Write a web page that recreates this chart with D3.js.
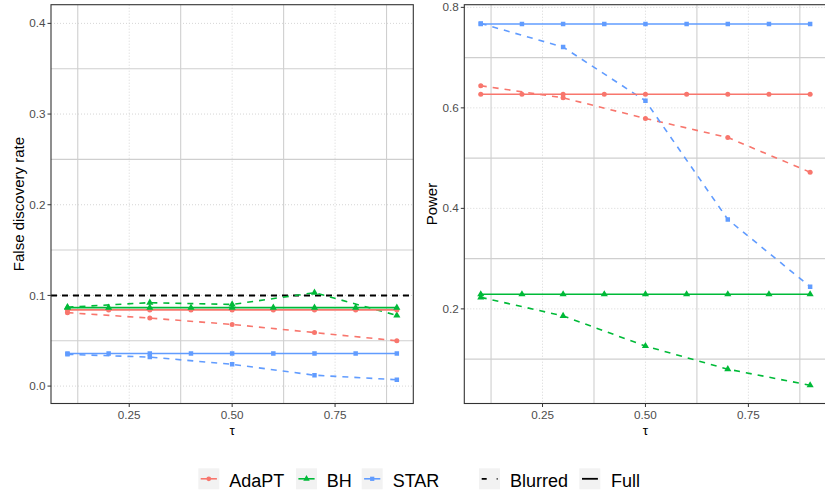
<!DOCTYPE html>
<html><head><meta charset="utf-8">
<script src="https://cdn.jsdelivr.net/npm/d3@7"></script>
<style>
body{margin:0;background:#fff;}
text{font-family:"Liberation Sans",Arial,sans-serif;}
</style></head>
<body><svg id="c" width="825" height="493"></svg>
<script>
// ---- data ----
const methods = ["AdaPT", "BH", "STAR"];
const versions = ["Blurred", "Full"];
const tauFull = [0.1, 0.2, 0.3, 0.4, 0.5, 0.6, 0.7, 0.8, 0.9];
const tauBlurred = [0.1, 0.3, 0.5, 0.7, 0.9];

const fdrFullAdaPT = [0.084, 0.084, 0.084, 0.084, 0.084, 0.084, 0.084, 0.084, 0.084];
const fdrFullBH    = [0.0865, 0.0865, 0.0865, 0.0865, 0.0865, 0.0865, 0.0865, 0.0865, 0.0865];
const fdrFullSTAR  = [0.036, 0.036, 0.036, 0.036, 0.036, 0.036, 0.036, 0.036, 0.036];
const fdrBlurAdaPT = [0.081, 0.075, 0.068, 0.059, 0.050];
const fdrBlurBH    = [0.087, 0.092, 0.090, 0.103, 0.078];
const fdrBlurSTAR  = [0.035, 0.032, 0.024, 0.012, 0.007];
const fdrTarget = 0.1;

const powFullAdaPT = [0.627, 0.627, 0.627, 0.627, 0.627, 0.627, 0.627, 0.627, 0.627];
const powFullBH    = [0.229, 0.229, 0.229, 0.229, 0.229, 0.229, 0.229, 0.229, 0.229];
const powFullSTAR  = [0.767, 0.767, 0.767, 0.767, 0.767, 0.767, 0.767, 0.767, 0.767];
const powBlurAdaPT = [0.644, 0.620, 0.579, 0.541, 0.472];
const powBlurBH    = [0.223, 0.186, 0.126, 0.080, 0.048];
const powBlurSTAR  = [0.768, 0.721, 0.614, 0.378, 0.244];

const xTicks = [0.25, 0.50, 0.75];
const xMinor = [0.125, 0.375, 0.625, 0.875];
const fdrTicks = [0.0, 0.1, 0.2, 0.3, 0.4];
const fdrMinor = [0.05, 0.15, 0.25, 0.35];
const powTicks = [0.2, 0.4, 0.6, 0.8];
const powMinor = [0.1, 0.3, 0.5, 0.7];

const colors = ["#F8766D", "#00BA38", "#619CFF"];
const shapes = [d3.symbolCircle, d3.symbolTriangle, d3.symbolSquare];

// ---- drawing ----
const svg = d3.select("#c");
const pTop = 4.7, pBottom = 403.5;

function panel(cfg) {
  const x = d3.scaleLinear().domain([0.06, 0.94]).range([cfg.left, cfg.right]);
  const y = d3.scaleLinear().domain(cfg.ydom).range([pBottom, pTop]);
  const g = svg.append("g");
  const clipId = "clip" + cfg.id;
  svg.append("clipPath").attr("id", clipId).append("rect")
    .attr("x", cfg.left).attr("y", pTop).attr("width", cfg.right - cfg.left).attr("height", pBottom - pTop);
  const pg = g.append("g").attr("clip-path", `url(#${clipId})`);
  pg.selectAll(".mx").data(xMinor).join("line")
    .attr("x1", d => x(d)).attr("x2", d => x(d)).attr("y1", pTop).attr("y2", pBottom)
    .attr("stroke", "#cfcfcf").attr("stroke-width", 1.1);
  pg.selectAll(".my").data(cfg.minor).join("line")
    .attr("y1", d => y(d)).attr("y2", d => y(d)).attr("x1", cfg.left).attr("x2", cfg.right)
    .attr("stroke", "#cfcfcf").attr("stroke-width", 1.1);
  pg.selectAll(".Mx").data(xTicks).join("line")
    .attr("x1", d => x(d)).attr("x2", d => x(d)).attr("y1", pTop).attr("y2", pBottom)
    .attr("stroke", "#d6d6d6").attr("stroke-width", 1).attr("stroke-dasharray", "1,2");
  pg.selectAll(".My").data(cfg.ticks).join("line")
    .attr("y1", d => y(d)).attr("y2", d => y(d)).attr("x1", cfg.left).attr("x2", cfg.right)
    .attr("stroke", "#d6d6d6").attr("stroke-width", 1).attr("stroke-dasharray", "1,2");

  if (cfg.hline !== undefined) {
    pg.append("line").attr("x1", cfg.left).attr("x2", cfg.right)
      .attr("y1", y(cfg.hline)).attr("y2", y(cfg.hline))
      .attr("stroke", "#000").attr("stroke-width", 2).attr("stroke-dasharray", "6,5");
  }
  const line = d3.line().x(d => x(d[0])).y(d => y(d[1]));
  cfg.series.forEach(s => {
    const pts = s.xs.map((v, i) => [v, s.ys[i]]);
    pg.append("path").attr("d", line(pts)).attr("fill", "none")
      .attr("stroke", colors[s.m]).attr("stroke-width", 1.6)
      .attr("stroke-dasharray", s.dash ? "6,6" : null);
    pg.selectAll(null).data(pts).join("path")
      .attr("d", d3.symbol().type(shapes[s.m]).size(s.m === 1 ? 22 : 20))
      .attr("transform", d => `translate(${x(d[0])},${y(d[1])})`)
      .attr("fill", colors[s.m]);
  });
  g.append("rect").attr("x", cfg.left).attr("y", pTop).attr("width", cfg.right - cfg.left)
    .attr("height", pBottom - pTop).attr("fill", "none").attr("stroke", "#333").attr("stroke-width", 1.1);
  g.selectAll(".yt").data(cfg.ticks).join("line")
    .attr("x1", cfg.left - 3.5).attr("x2", cfg.left).attr("y1", d => y(d)).attr("y2", d => y(d))
    .attr("stroke", "#333");
  g.selectAll(".yl").data(cfg.ticks).join("text")
    .attr("x", cfg.left - 5.5).attr("y", d => y(d)).attr("dy", "0.35em")
    .attr("text-anchor", "end").attr("font-size", 11.7).attr("fill", "#4d4d4d")
    .text(d => d3.format(".1f")(d));
  g.selectAll(".xt").data(xTicks).join("line")
    .attr("x1", d => x(d)).attr("x2", d => x(d)).attr("y1", pBottom).attr("y2", pBottom + 3.5)
    .attr("stroke", "#333");
  g.selectAll(".xl").data(xTicks).join("text")
    .attr("x", d => x(d)).attr("y", 419)
    .attr("text-anchor", "middle").attr("font-size", 11.7).attr("fill", "#4d4d4d")
    .text(d => d3.format(".2f")(d));
  g.append("text").attr("x", (cfg.left + cfg.right) / 2).attr("y", 434.5)
    .attr("text-anchor", "middle").attr("font-size", 13.5).attr("fill", "#000").text("τ");
  g.append("text").attr("transform", `translate(${cfg.titleX},${(pTop + pBottom) / 2}) rotate(-90)`)
    .attr("text-anchor", "middle").attr("font-size", 15).attr("fill", "#000").text(cfg.title);
}

panel({
  id: "L", left: 51, right: 413.3, ydom: [-0.0192, 0.4206], ticks: fdrTicks, minor: fdrMinor,
  title: "False discovery rate", titleX: 24, hline: fdrTarget,
  series: [
    {m: 0, xs: tauBlurred, ys: fdrBlurAdaPT, dash: true},
    {m: 1, xs: tauBlurred, ys: fdrBlurBH, dash: true},
    {m: 2, xs: tauBlurred, ys: fdrBlurSTAR, dash: true},
    {m: 0, xs: tauFull, ys: fdrFullAdaPT, dash: false},
    {m: 1, xs: tauFull, ys: fdrFullBH, dash: false},
    {m: 2, xs: tauFull, ys: fdrFullSTAR, dash: false}
  ]
});
panel({
  id: "R", left: 464.3, right: 826.6, ydom: [0.0117, 0.8053], ticks: powTicks, minor: powMinor,
  title: "Power", titleX: 437,
  series: [
    {m: 0, xs: tauBlurred, ys: powBlurAdaPT, dash: true},
    {m: 1, xs: tauBlurred, ys: powBlurBH, dash: true},
    {m: 2, xs: tauBlurred, ys: powBlurSTAR, dash: true},
    {m: 0, xs: tauFull, ys: powFullAdaPT, dash: false},
    {m: 1, xs: tauFull, ys: powFullBH, dash: false},
    {m: 2, xs: tauFull, ys: powFullSTAR, dash: false}
  ]
});

// ---- legend ----
const leg = svg.append("g");
const keyY = 468.3, keyS = 21;
const methodKeysX = [198.3, 296, 361.7];
const methodTextX = [229.3, 326.7, 392.7];
methods.forEach((m, i) => {
  const kx = methodKeysX[i];
  leg.append("rect").attr("x", kx).attr("y", keyY).attr("width", keyS).attr("height", keyS).attr("fill", "#f2f2f2");
  leg.append("line").attr("x1", kx + 2.4).attr("x2", kx + keyS - 2.4).attr("y1", keyY + keyS / 2).attr("y2", keyY + keyS / 2)
    .attr("stroke", colors[i]).attr("stroke-width", 1.6);
  leg.append("path").attr("d", d3.symbol().type(shapes[i]).size(18)())
    .attr("transform", `translate(${kx + keyS / 2},${keyY + keyS / 2})`).attr("fill", colors[i]);
  leg.append("text").attr("x", methodTextX[i]).attr("y", 487).attr("font-size", 18).attr("fill", "#000").text(m);
});
const verKeysX = [479, 579.3];
const verTextX = [510, 611];
versions.forEach((v, i) => {
  const kx = verKeysX[i];
  leg.append("rect").attr("x", kx).attr("y", keyY).attr("width", keyS).attr("height", keyS).attr("fill", "#f2f2f2");
  leg.append("line").attr("x1", kx + 2.7).attr("x2", kx + keyS - 2.4).attr("y1", keyY + keyS / 2).attr("y2", keyY + keyS / 2)
    .attr("stroke", "#000").attr("stroke-width", 1.8).attr("stroke-dasharray", i === 0 ? "5,10" : null);
  leg.append("text").attr("x", verTextX[i]).attr("y", 487).attr("font-size", 18).attr("fill", "#000").text(v);
});
</script></body></html>
